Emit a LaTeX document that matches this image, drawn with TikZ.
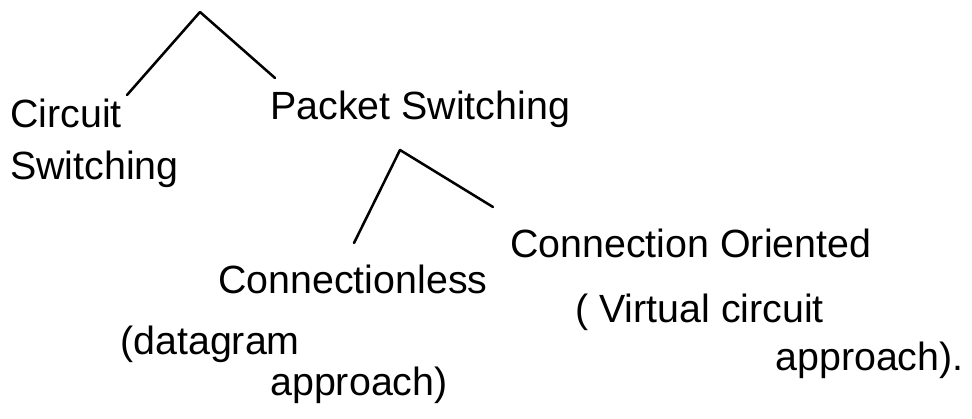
\documentclass[tikz,border=0pt]{standalone}
\usepackage{fontspec}
\setmainfont{Liberation Sans}
\begin{document}
\begin{tikzpicture}[x=0.025cm, y=-0.025cm,
  lbl/.style={inner sep=0pt, anchor=base west, align=left, font=\fontsize{28}{28}\selectfont},
  branch/.style={line width=1.8pt, line cap=round, line join=round}]
\useasboundingbox[fill=white] (0,0) rectangle (972,419);
% tree
\coordinate (top) at (200,12);
\node[lbl] (cs) at (10,180) {Circuit\\[9pt]Switching};
\node[lbl] (ps) at (270,120) {Packet Switching};
\coordinate (csend) at (127,95);
\coordinate (psend) at (275,78);
\draw[branch] (csend) -- (top) -- (psend);
% second level
\coordinate (top2) at (400,150);
\node[lbl] (cl) at (218,293) {Connectionless};
\node[lbl] (dg) at (120,395) {(datagram\\[0.5pt]\hspace*{3.75cm}approach)};
\node[lbl] (co) at (510,258) {Connection Oriented};
\node[lbl] (vc) at (575,370) {( Virtual circuit\\[6pt]\hspace*{5cm}approach).};
\coordinate (clend) at (354,243);
\coordinate (coend) at (493,207);
\draw[branch] (clend) -- (top2) -- (coend);
\end{tikzpicture}
\end{document}
